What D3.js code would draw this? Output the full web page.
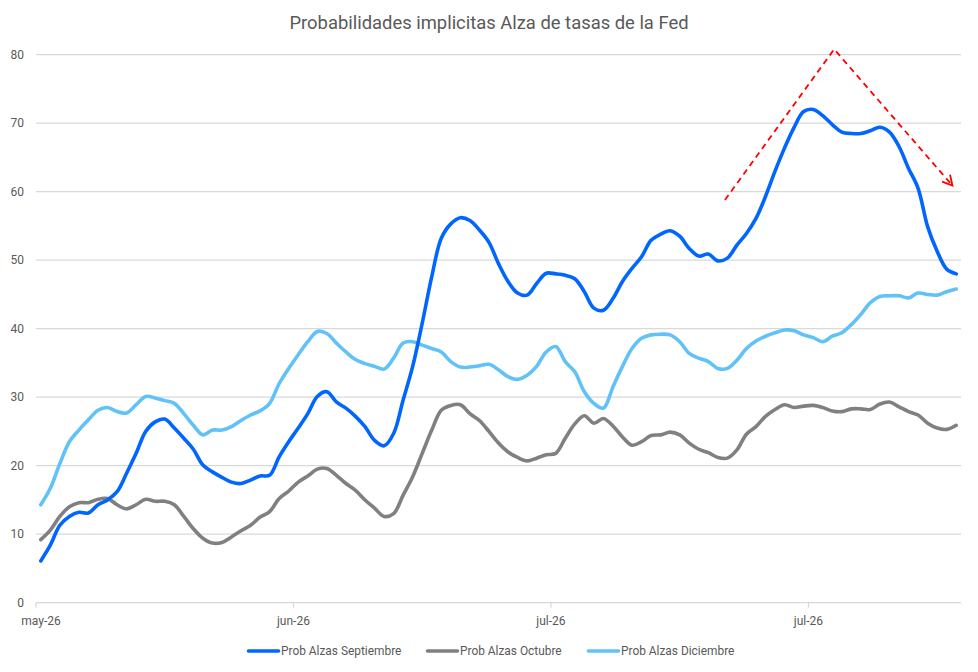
<!DOCTYPE html>
<html>
<head>
<meta charset="utf-8">
<script src="https://cdn.jsdelivr.net/npm/d3@7"></script>
<style>
  html, body { margin: 0; padding: 0; background: #fff; }
  text { font-family: Roboto, "Noto Sans", sans-serif; }
</style>
</head>
<body>
<svg id="chart" width="978" height="672"></svg>
<script>
// series, one value per category slot
const septiembre = [
  6.1, 8.4, 11.3, 12.6, 13.2, 13.1, 14.3, 15.0, 16.2, 18.9,
  21.8, 25.0, 26.4, 26.8, 25.5, 24.0, 22.4, 20.1, 19.1, 18.3,
  17.6, 17.4, 17.9, 18.5, 18.6, 21.3, 23.5, 25.5, 27.6, 30.1,
  30.8, 29.3, 28.4, 27.2, 25.7, 23.7, 22.9, 24.7, 29.6, 34.5,
  40.8, 47.6, 53.2, 55.3, 56.2, 55.8, 54.4, 52.6, 49.5, 46.9,
  45.2, 44.9, 46.6, 48.1, 48.0, 47.8, 47.3, 45.4, 43.0, 42.7,
  44.4, 46.9, 48.8, 50.5, 52.9, 53.8, 54.3, 53.5, 51.7, 50.6,
  50.9, 49.9, 50.3, 52.2, 53.9, 56.1, 59.3, 63.0, 66.4, 69.4,
  71.7, 72.0, 71.1, 69.8, 68.7, 68.5, 68.5, 68.9, 69.4, 68.7,
  66.6, 63.4, 60.5, 54.9, 51.3, 48.7, 48.0
];
const octubre = [
  9.2, 10.6, 12.6, 14.0, 14.6, 14.6, 15.1, 15.2, 14.3, 13.7,
  14.3, 15.1, 14.8, 14.8, 14.3, 12.6, 10.8, 9.4, 8.7, 8.8,
  9.6, 10.5, 11.3, 12.5, 13.3, 15.2, 16.3, 17.6, 18.5, 19.5,
  19.6, 18.6, 17.4, 16.4, 15.0, 13.8, 12.6, 13.0, 15.7, 18.4,
  21.8, 25.2, 28.1, 28.8, 28.9, 27.6, 26.6, 25.0, 23.3, 22.0,
  21.2, 20.7, 21.1, 21.6, 21.8, 24.0, 26.1, 27.3, 26.2, 26.9,
  25.8, 24.2, 23.0, 23.5, 24.4, 24.5, 24.9, 24.5, 23.3, 22.4,
  21.9, 21.2, 21.1, 22.3, 24.6, 25.7, 27.2, 28.2, 28.9, 28.5,
  28.7, 28.8, 28.5, 28.0, 27.9, 28.3, 28.3, 28.2, 29.0, 29.3,
  28.6, 27.9, 27.4, 26.2, 25.5, 25.3, 25.9
];
const diciembre = [
  14.3, 16.7, 20.3, 23.5, 25.2, 26.7, 28.1, 28.5, 27.9, 27.7,
  28.9, 30.1, 29.9, 29.5, 29.1, 27.6, 25.9, 24.5, 25.2, 25.2,
  25.7, 26.6, 27.4, 28.0, 29.1, 32.0, 34.2, 36.2, 38.1, 39.6,
  39.3, 37.9, 36.6, 35.5, 34.9, 34.5, 34.1, 35.7, 37.9, 38.1,
  37.6, 37.1, 36.6, 35.2, 34.4, 34.4, 34.6, 34.8, 34.0, 33.0,
  32.6, 33.2, 34.5, 36.6, 37.4, 35.2, 33.7, 30.8, 29.1, 28.4,
  31.5, 34.5, 37.1, 38.6, 39.1, 39.2, 39.1, 38.1, 36.4, 35.7,
  35.2, 34.2, 34.2, 35.4, 37.1, 38.2, 38.9, 39.4, 39.8, 39.7,
  39.1, 38.7, 38.1, 38.9, 39.4, 40.6, 42.1, 43.8, 44.7, 44.8,
  44.8, 44.5, 45.2, 45.0, 44.9, 45.4, 45.8
];

const seriesNames = ["Prob Alzas Septiembre", "Prob Alzas Octubre", "Prob Alzas Diciembre"];
const seriesColors = ["#0066FF", "#808080", "#60C2F6"];

const tickIndex = [0, 27, 54, 81];
const tickLabels = ["may-26", "jun-26", "jul-26", "jul-26"];
const yTicks = [0, 10, 20, 30, 40, 50, 60, 70, 80];

// red dashed trend annotation, in (slot, value) units
const arrowIdx = [71.75, 83.2, 95.6];
const arrowVal = [58.8, 80.8, 60.9];

const title = "Probabilidades implicitas Alza de tasas de la Fed";

const svg = d3.select("#chart");
const n = septiembre.length;

const xScale = d3.scaleBand()
  .domain(d3.range(n))
  .range([36, 961])
  .paddingInner(0)
  .paddingOuter(0);
const xMid = i => xScale(i) + xScale.bandwidth() / 2;
const xPos = v => xScale.range()[0] + (v + 0.5) * xScale.step();

const yScale = d3.scaleLinear()
  .domain([0, 80])
  .range([602.7, 54.7]);

// title
svg.append("text")
  .attr("x", 489)
  .attr("y", 29)
  .attr("text-anchor", "middle")
  .attr("font-size", 18.4)
  .attr("fill", "#595959")
  .text(title);

// gridlines
svg.append("g")
  .selectAll("line")
  .data(yTicks)
  .enter()
  .append("line")
  .attr("x1", 36)
  .attr("x2", 961)
  .attr("y1", d => yScale(d))
  .attr("y2", d => yScale(d))
  .attr("stroke", "#d9d9d9")
  .attr("stroke-width", 1.3);

// y labels
svg.append("g")
  .selectAll("text")
  .data(yTicks)
  .enter()
  .append("text")
  .attr("x", 24)
  .attr("y", d => yScale(d))
  .attr("dy", "0.35em")
  .attr("text-anchor", "end")
  .attr("font-size", 12)
  .attr("fill", "#595959")
  .text(d => d);

// x tick marks on the category boundaries
const tickX = i => xScale(i);
svg.append("g")
  .selectAll("line")
  .data(tickIndex)
  .enter()
  .append("line")
  .attr("x1", d => tickX(d))
  .attr("x2", d => tickX(d))
  .attr("y1", yScale(0))
  .attr("y2", yScale(0) + 5)
  .attr("stroke", "#d9d9d9")
  .attr("stroke-width", 1.3);

svg.append("g")
  .selectAll("text")
  .data(tickIndex)
  .enter()
  .append("text")
  .attr("x", (d, i) => i === 0 ? tickX(d) + 5 : tickX(d))
  .attr("y", 625)
  .attr("text-anchor", "middle")
  .attr("font-size", 12)
  .attr("fill", "#595959")
  .text((d, i) => tickLabels[i]);

// lines
const line = d3.line()
  .x((d, i) => xMid(i))
  .y(d => yScale(d))
  .curve(d3.curveCatmullRom.alpha(0.5));

const allSeries = [septiembre, octubre, diciembre];
// draw order: diciembre, octubre, septiembre on top
[2, 1, 0].forEach(k => {
  svg.append("path")
    .datum(allSeries[k])
    .attr("d", line)
    .attr("fill", "none")
    .attr("stroke", seriesColors[k])
    .attr("stroke-width", 3.6)
    .attr("stroke-linecap", "round")
    .attr("stroke-linejoin", "round");
});

// annotation arrow
const arrowPts = arrowIdx.map((v, i) => [xPos(v), yScale(arrowVal[i])]);
svg.append("path")
  .attr("d", d3.line()(arrowPts))
  .attr("fill", "none")
  .attr("stroke", "#ff0000")
  .attr("stroke-width", 1.8)
  .attr("stroke-dasharray", "6,4.5");
// arrow head drawn separately so the dash doesn't break it
const last = arrowPts[2], prev = arrowPts[1];
const ang = Math.atan2(last[1] - prev[1], last[0] - prev[0]);
const hl = 11, spread = 0.5;
svg.append("path")
  .attr("d", d3.line()([
    [last[0] - hl * Math.cos(ang - spread), last[1] - hl * Math.sin(ang - spread)],
    last,
    [last[0] - hl * Math.cos(ang + spread), last[1] - hl * Math.sin(ang + spread)]
  ]))
  .attr("fill", "none")
  .attr("stroke", "#ff0000")
  .attr("stroke-width", 1.8);

// legend
const legend = svg.append("g").attr("transform", "translate(0,651)");
const legendX = [247, 426, 587];
seriesNames.forEach((name, k) => {
  const g = legend.append("g").attr("transform", `translate(${legendX[k]},0)`);
  g.append("line")
    .attr("x1", 1.5)
    .attr("x2", 31.5)
    .attr("y1", 0)
    .attr("y2", 0)
    .attr("stroke", seriesColors[k])
    .attr("stroke-width", 3.6)
    .attr("stroke-linecap", "round");
  g.append("text")
    .attr("x", 34)
    .attr("y", 0)
    .attr("dy", "0.35em")
    .attr("font-size", 11.9)
    .attr("fill", "#595959")
    .text(name);
});
</script>
</body>
</html>
